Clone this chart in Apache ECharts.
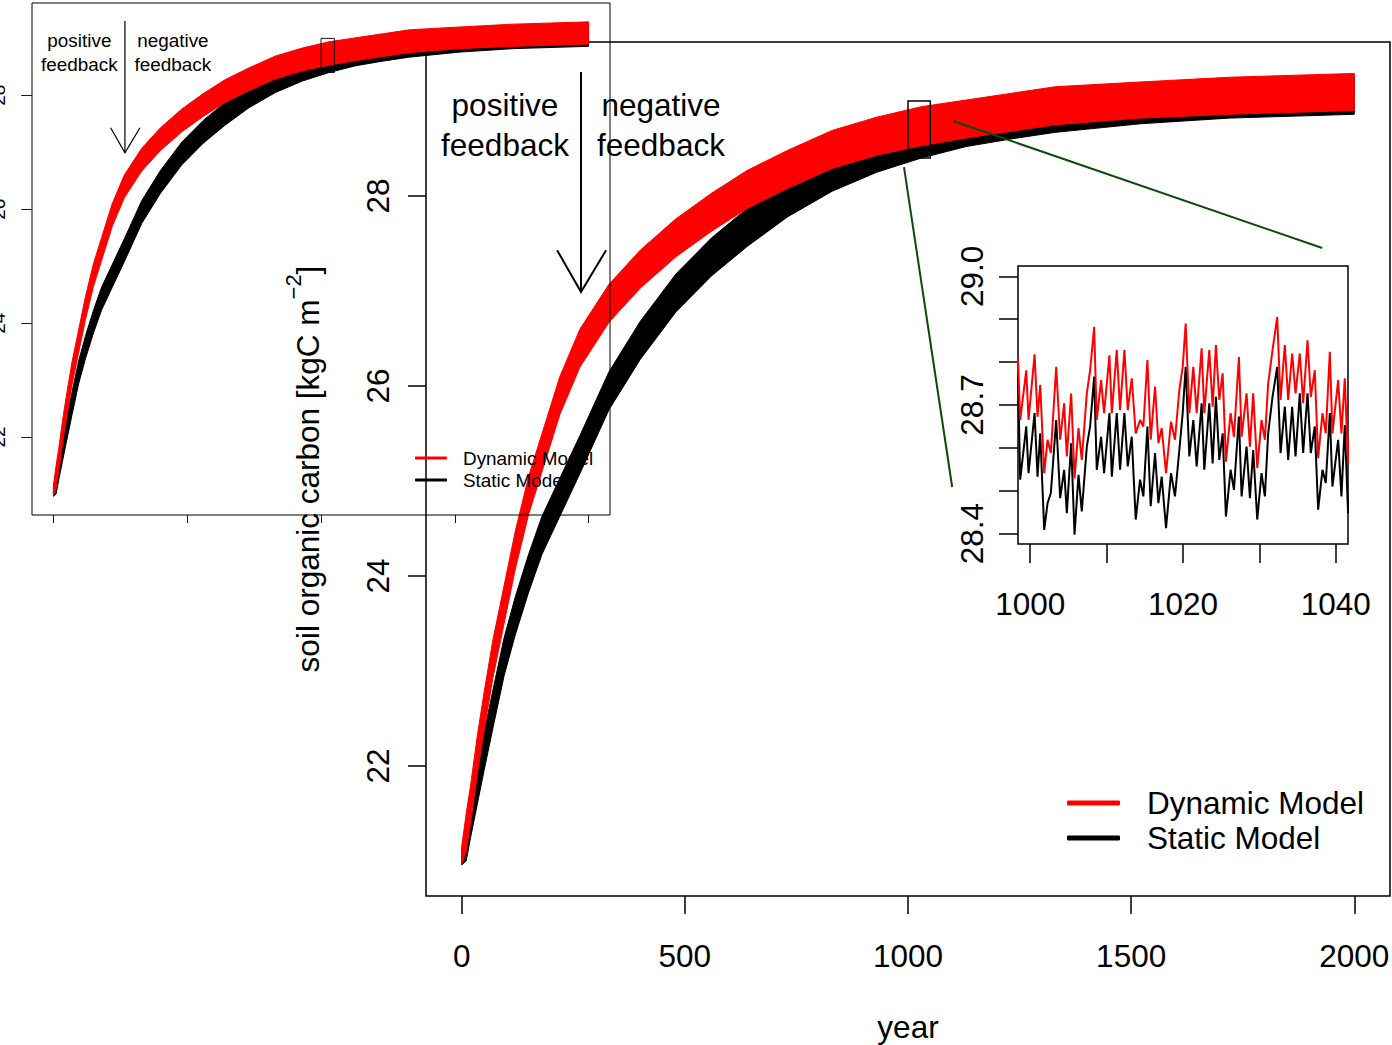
<!DOCTYPE html>
<html><head><meta charset="utf-8">
<script src="https://cdn.jsdelivr.net/npm/echarts@6/dist/echarts.min.js"></script>
<style>html,body{margin:0;padding:0;background:#fff}#c{width:1392px;height:1045px}</style>
</head><body><div id="c"></div>
<script>
// ---- data ----
const envYears = [0, 10, 20, 35, 50, 70, 95, 120, 150, 180, 220, 265, 330, 400, 480, 560, 640, 730, 830, 930, 1030, 1130, 1230, 1330, 1520, 1720, 2000];
const dynUpper = [21.15, 21.50, 21.80, 22.32, 22.77, 23.33, 23.90, 24.47, 25.05, 25.50, 26.10, 26.60, 27.07, 27.43, 27.76, 28.03, 28.27, 28.48, 28.69, 28.83, 28.94, 29.01, 29.08, 29.15, 29.20, 29.25, 29.29];
const dynLower = [20.97, 21.10, 21.40, 21.92, 22.37, 22.93, 23.50, 24.07, 24.65, 25.10, 25.70, 26.20, 26.67, 27.03, 27.36, 27.63, 27.87, 28.08, 28.29, 28.43, 28.53, 28.61, 28.68, 28.75, 28.82, 28.86, 28.90];
const staUpper = [21.12, 21.40, 21.65, 22.00, 22.35, 22.80, 23.35, 23.78, 24.23, 24.63, 25.03, 25.48, 26.15, 26.68, 27.18, 27.56, 27.87, 28.18, 28.45, 28.65, 28.80, 28.92, 29.00, 29.07, 29.16, 29.22, 29.26];
const staLower = [20.96, 21.00, 21.25, 21.60, 21.95, 22.40, 22.95, 23.38, 23.83, 24.23, 24.63, 25.08, 25.75, 26.28, 26.78, 27.16, 27.47, 27.78, 28.05, 28.25, 28.40, 28.52, 28.60, 28.67, 28.76, 28.82, 28.86];

const insetYears = [998.39, 998.69, 999.48, 999.78, 1000.57, 1000.96, 1001.31, 1001.83, 1002.27, 1002.70, 1003.40, 1003.92, 1004.44, 1004.79, 1005.36, 1005.80, 1006.32, 1006.75, 1007.41, 1007.84, 1008.37, 1008.71, 1009.28, 1009.67, 1010.37, 1010.68, 1011.33, 1011.76, 1012.33, 1012.77, 1013.29, 1013.81, 1014.38, 1014.81, 1015.34, 1015.77, 1016.34, 1016.78, 1017.21, 1017.78, 1018.43, 1018.95, 1019.52, 1019.96, 1020.35, 1020.83, 1021.35, 1021.79, 1022.44, 1022.79, 1023.44, 1023.88, 1024.31, 1024.75, 1025.19, 1025.62, 1026.23, 1026.67, 1027.32, 1027.67, 1028.32, 1028.76, 1029.19, 1029.72, 1030.28, 1030.72, 1031.15, 1031.72, 1032.33, 1032.77, 1033.33, 1033.77, 1034.29, 1034.73, 1035.29, 1035.73, 1036.30, 1036.73, 1037.25, 1037.69, 1038.26, 1038.69, 1039.22, 1039.56, 1040.31, 1040.74, 1041.18, 1041.61, 1041.92];
const insetDynamic = [28.809, 28.665, 28.781, 28.665, 28.818, 28.673, 28.747, 28.541, 28.619, 28.588,
  28.789, 28.619, 28.704, 28.580, 28.727, 28.529, 28.646, 28.572, 28.727, 28.781,
  28.882, 28.665, 28.758, 28.681, 28.816, 28.681, 28.828, 28.688, 28.828, 28.688,
  28.762, 28.634, 28.665, 28.650, 28.805, 28.619, 28.743, 28.611, 28.646, 28.541,
  28.661, 28.619, 28.735, 28.789, 28.890, 28.681, 28.789, 28.681, 28.832, 28.681,
  28.828, 28.696, 28.840, 28.712, 28.774, 28.568, 28.681, 28.626, 28.812, 28.626,
  28.727, 28.603, 28.727, 28.553, 28.665, 28.619, 28.750, 28.828, 28.905, 28.712,
  28.840, 28.712, 28.820, 28.727, 28.820, 28.704, 28.851, 28.719, 28.781, 28.576,
  28.681, 28.634, 28.824, 28.634, 28.758, 28.634, 28.762, 28.564, 28.650];
const insetStatic = [28.774, 28.526, 28.650, 28.541, 28.681, 28.533, 28.634, 28.409, 28.471, 28.495,
  28.665, 28.483, 28.549, 28.448, 28.611, 28.398, 28.537, 28.452, 28.603, 28.650,
  28.766, 28.549, 28.626, 28.541, 28.681, 28.533, 28.681, 28.549, 28.681, 28.557,
  28.626, 28.433, 28.526, 28.487, 28.650, 28.464, 28.588, 28.471, 28.533, 28.413,
  28.541, 28.487, 28.595, 28.681, 28.789, 28.580, 28.665, 28.557, 28.704, 28.549,
  28.704, 28.564, 28.719, 28.572, 28.634, 28.440, 28.549, 28.502, 28.673, 28.487,
  28.603, 28.483, 28.595, 28.433, 28.541, 28.487, 28.634, 28.719, 28.789, 28.588,
  28.696, 28.572, 28.696, 28.580, 28.727, 28.588, 28.727, 28.588, 28.650, 28.456,
  28.549, 28.518, 28.681, 28.510, 28.619, 28.487, 28.653, 28.448, 28.502];

const mainXTicks = [0, 500, 1000, 1500, 2000];
const mainYTicks = [22, 24, 26, 28];
const insetXTicks = [1000, 1010, 1020, 1030, 1040];
const insetXLabels = [1000, 1020, 1040];
const insetYTicks = [28.4, 28.5, 28.6, 28.7, 28.8, 28.9, 29.0];
const insetYLabels = [28.4, 28.7, 29.0];
const seriesNames = ['Dynamic Model', 'Static Model'];

// annotation anchors in data units (main chart)
const zoomRect = [[1000, 28.4], [1050, 29.0]];
const arrowShaft = [[267.3, 29.305], [267.3, 26.99]];
const arrowHead = [[213.8, 27.43], [267.3, 26.99], [323.6, 27.43]];
const posText = [97, 28.747];
const negText = [446.5, 28.747];
const connectors = [[[991, 28.305], [1099, 24.937]], [[1101, 28.79], [1928, 27.453]]];

// ---- chart ----
const FONT = '"Liberation Sans", Arial, Helvetica, sans-serif';
const FS = 31.5;
const chart = echarts.init(document.getElementById('c'), null, {renderer: 'svg'});
const black = '#000';

function pairs(xs, ys) { return xs.map((x, i) => [x, ys[i]]); }
function band(id, lower, upper, color, gi, z) {
  return {
    type: 'custom', name: id, coordinateSystem: 'cartesian2d', xAxisIndex: gi, yAxisIndex: gi,
    clip: true, silent: true, z: z, animation: false,
    data: envYears.map((x, i) => [x, lower[i], upper[i]]),
    encode: {x: 0, y: [1, 2]},
    renderItem: function (params, api) {
      if (params.dataIndex !== 0) return null;
      const top = envYears.map((x, i) => api.coord([x, upper[i]]));
      const bot = envYears.map((x, i) => api.coord([x, lower[i]])).reverse();
      return {type: 'polygon', shape: {points: top.concat(bot)},
        style: {fill: color, stroke: color, lineWidth: 1}};
    }
  };
}
function mainLikeAxes(gi, s, showLabels, z) {
  const xa = {type: 'value', gridIndex: gi, min: -80, max: 2080, z: z,
    axisLine: {show: false, onZero: false}, splitLine: {show: false},
    axisTick: {show: true, length: 18 * s, customValues: mainXTicks, lineStyle: {color: black, width: 1.5 * s}},
    axisLabel: {show: showLabels, customValues: mainXTicks, margin: 44 * s, fontSize: FS * s, color: black, fontFamily: FONT,
      formatter: v => String(v)}};
  const ya = {type: 'value', gridIndex: gi, min: 20.632, max: 29.621, z: z,
    axisLine: {show: false, onZero: false}, splitLine: {show: false},
    axisTick: {show: true, length: 18 * s, customValues: mainYTicks, lineStyle: {color: black, width: 1.5 * s}},
    axisLabel: {show: true, customValues: mainYTicks, rotate: 90, margin: 32 * s, fontSize: FS * s, color: black, fontFamily: FONT,
      formatter: v => String(v)}};
  return [xa, ya];
}
const [mx, my] = mainLikeAxes(0, 1, true, 2);
mx.name = 'year'; mx.nameLocation = 'middle'; mx.nameGap = 115;
mx.nameTextStyle = {fontSize: FS, color: black, fontFamily: FONT};
my.name = '{a|soil organic carbon [kgC m}{s|−2}{a|]}';
my.nameLocation = 'middle'; my.nameGap = 102;
my.nameTextStyle = {color: black, fontFamily: FONT, rich: {
  a: {fontSize: FS, fontFamily: FONT, color: black, lineHeight: 42, verticalAlign: 'bottom'},
  s: {fontSize: 22, fontFamily: FONT, color: black, lineHeight: 22, verticalAlign: 'top'}}};
const [ox, oy] = mainLikeAxes(1, 0.6, false, 10);
ox.axisTick.length = 8;
oy.axisLabel.margin = 24;

const ix = {type: 'value', gridIndex: 2, min: 998.4, max: 1041.6, z: 3,
  axisLine: {show: false, onZero: false}, splitLine: {show: false},
  axisTick: {show: true, length: 19, customValues: insetXTicks, lineStyle: {color: black, width: 1.5}},
  axisLabel: {customValues: insetXLabels, margin: 44, fontSize: FS, color: black, fontFamily: FONT, formatter: v => String(v)}};
const iy = {type: 'value', gridIndex: 2, min: 28.376, max: 29.024, z: 3,
  axisLine: {show: false, onZero: false}, splitLine: {show: false},
  axisTick: {show: true, length: 19, customValues: insetYTicks, lineStyle: {color: black, width: 1.5}},
  axisLabel: {customValues: insetYLabels, rotate: 90, margin: 30, fontSize: FS, color: black, fontFamily: FONT,
    formatter: v => Number(v).toFixed(1)}};

const series = [
  band('mainSta', staLower, staUpper, '#000000', 0, 2),
  band('mainDyn', dynLower, dynUpper, '#ff0000', 0, 3),
  band('ovSta', staLower, staUpper, '#000000', 1, 8),
  band('ovDyn', dynLower, dynUpper, '#ff0000', 1, 9),
  {type: 'line', name: seriesNames[1], xAxisIndex: 2, yAxisIndex: 2, data: pairs(insetYears, insetStatic),
   symbol: 'none', lineStyle: {width: 2, color: '#000'}, itemStyle: {color: '#000'}, z: 4, animation: false, clip: true},
  {type: 'line', name: seriesNames[0], xAxisIndex: 2, yAxisIndex: 2, data: pairs(insetYears, insetDynamic),
   symbol: 'none', lineStyle: {width: 2, color: '#ff0000'}, itemStyle: {color: '#ff0000'}, z: 5, animation: false, clip: true}
];

function legendData() {
  return [
    {name: seriesNames[0], icon: 'roundRect', itemStyle: {color: '#ff0000', borderWidth: 0}},
    {name: seriesNames[1], icon: 'roundRect', itemStyle: {color: '#000000', borderWidth: 0}}
  ];
}
const gridCommon = {show: true, borderColor: black, outerBoundsMode: 'none', containLabel: false};
const option = {
  backgroundColor: '#fff',
  animation: false,
  grid: [
    Object.assign({left: 426, top: 42, width: 964, height: 854, borderWidth: 1.5, backgroundColor: 'transparent', z: 0}, gridCommon),
    Object.assign({left: 32, top: 3, width: 578, height: 512, borderWidth: 1, backgroundColor: 'transparent', z: 10}, gridCommon),
    Object.assign({left: 1018, top: 266, width: 330, height: 278, borderWidth: 1.5, backgroundColor: '#fff', z: 1}, gridCommon)
  ],
  xAxis: [mx, ox, ix],
  yAxis: [my, oy, iy],
  legend: [
    {data: legendData(), orient: 'vertical', left: 1067, top: 785.5, padding: 0, itemGap: 0, itemWidth: 53, itemHeight: 5,
     selectedMode: false,
     textStyle: {fontSize: FS, color: black, fontFamily: FONT, lineHeight: 25, padding: [10, 0, 0, 22]}},
    {data: legendData(), orient: 'vertical', left: 415, top: 447, padding: 0, itemGap: 0, itemWidth: 32, itemHeight: 3, z: 12,
     selectedMode: false,
     textStyle: {fontSize: FS * 0.6, color: black, fontFamily: FONT, lineHeight: 16, padding: [6, 0, 0, 11]}}
  ],
  series: series
};
chart.setOption(option);

// ---- annotations positioned through the axes ----
function annotations(gi, s) {
  const p = v => chart.convertToPixel({gridIndex: gi}, v);
  const els = [];
  const r0 = p(zoomRect[0]), r1 = p(zoomRect[1]);
  els.push({type: 'rect', z: 100, shape: {x: r0[0], y: r1[1], width: r1[0] - r0[0], height: r0[1] - r1[1]},
    style: {fill: 'none', stroke: black, lineWidth: 1.5 * s}});
  const a0 = p(arrowShaft[0]), a1 = p(arrowShaft[1]);
  els.push({type: 'line', z: 100, shape: {x1: a0[0], y1: a0[1], x2: a1[0], y2: a1[1]}, style: {stroke: black, lineWidth: 2 * s}});
  els.push({type: 'polyline', z: 100, shape: {points: arrowHead.map(p)}, style: {stroke: black, fill: 'none', lineWidth: 2 * s}});
  [[posText, 'positive\nfeedback'], [negText, 'negative\nfeedback']].forEach(([pos, txt]) => {
    const q = p(pos);
    els.push({type: 'text', z: 100, x: q[0], y: q[1],
      style: {text: txt, fill: black, font: (FS * s) + 'px ' + FONT, align: 'center', verticalAlign: 'middle', lineHeight: 40 * s}});
  });
  return els;
}
let graphics = annotations(0, 1).concat(annotations(1, 0.6));
connectors.forEach(c => {
  const a = chart.convertToPixel({gridIndex: 0}, c[0]), b = chart.convertToPixel({gridIndex: 0}, c[1]);
  graphics.push({type: 'line', z: 100, shape: {x1: a[0], y1: a[1], x2: b[0], y2: b[1]}, style: {stroke: '#0a4a0a', lineWidth: 2}});
});
chart.setOption({graphic: graphics});
</script></body></html>
